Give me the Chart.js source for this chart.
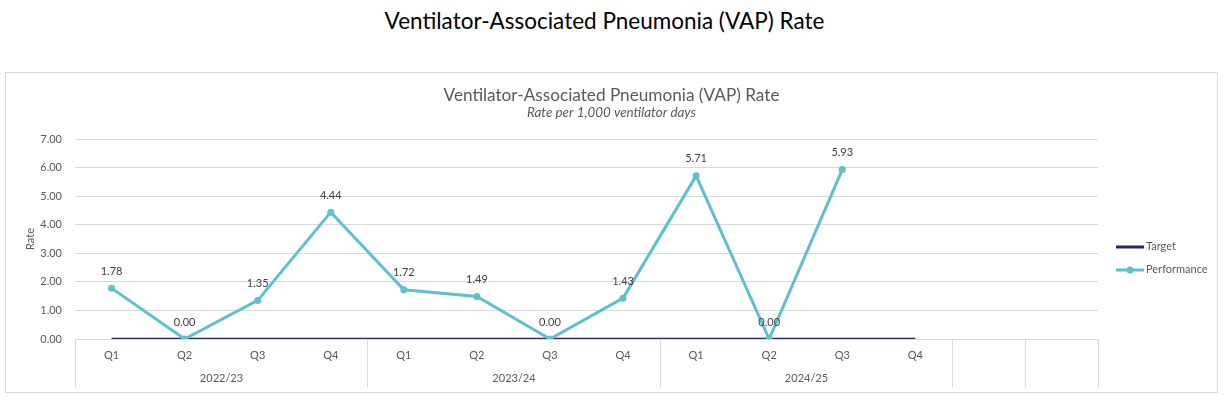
<!DOCTYPE html>
<html>
<head>
<meta charset="utf-8">
<script src="https://cdn.jsdelivr.net/npm/chart.js@4"></script>
<style>
  body { margin: 0; background: #fff; font-family: Lato, "Open Sans", sans-serif; }
  #pageTitle { position: absolute; left: 0; width: 1209px; top: 7px; text-align: center; font-size: 22.5px; color: #000; }
  #box { position: absolute; left: 5px; top: 72px; width: 1211px; height: 319px; border: 1px solid #d9d9d9; }
</style>
</head>
<body>
<div id="pageTitle">Ventilator-Associated Pneumonia (VAP) Rate</div>
<div id="box"><canvas id="vap"></canvas></div>
<script>
// categorieen (kwartalen) + jaargroepen
const quarters = ["Q1", "Q2", "Q3", "Q4", "Q1", "Q2", "Q3", "Q4", "Q1", "Q2", "Q3", "Q4", "", ""];
const years = ["2022/23", "2023/24", "2024/25", "", ""];
const yearSizes = [4, 4, 4, 1, 1];

const target = [0, 0, 0, 0, 0, 0, 0, 0, 0, 0, 0, 0, null, null];
const performance = [1.78, 0.00, 1.35, 4.44, 1.72, 1.49, 0.00, 1.43, 5.71, 0.00, 5.93, null, null, null];

const yTicks = [0, 1, 2, 3, 4, 5, 6, 7];

const teal = '#5ebfcd';
const navy = '#2e2270';
const grey = '#595959';
const font = 'Lato, "Open Sans", sans-serif';

// titels, labels boven de punten, jaartallen onder de as en de legenda
const extras = {
    id: 'extras',
    afterDatasetsDraw(chart) {
        const ctx = chart.ctx;
        const meta = chart.getDatasetMeta(0);
        ctx.save();
        ctx.font = '11px ' + font;
        ctx.fillStyle = '#404040';
        ctx.textAlign = 'center';
        ctx.textBaseline = 'middle';
        meta.data.forEach((pt, i) => {
            if (performance[i] === null) return;
            ctx.fillText(performance[i].toFixed(2), pt.x, pt.y - 17);
        });
        ctx.restore();
    },
    afterDraw(chart) {
        const ctx = chart.ctx;
        const x = chart.scales.x;
        const area = chart.chartArea;
        ctx.save();

        // titel + ondertitel, gecentreerd op het hele vak
        ctx.textAlign = 'center';
        ctx.textBaseline = 'middle';
        ctx.fillStyle = grey;
        ctx.font = '17.2px ' + font;
        ctx.fillText('Ventilator-Associated Pneumonia (VAP) Rate', chart.width / 2, 22);
        ctx.font = 'italic 13.4px ' + font;
        ctx.fillText('Rate per 1,000 ventilator days', chart.width / 2, 40);

        ctx.strokeStyle = '#d9d9d9';
        ctx.lineWidth = 1;
        ctx.font = '11px ' + font;
        let start = 0;
        const edge = (i) => Math.round(x.getPixelForValue(i - 0.5)) + 0.5;
        ctx.beginPath();
        ctx.moveTo(edge(0), area.bottom);
        ctx.lineTo(edge(0), area.bottom + 48);
        ctx.stroke();
        years.forEach((y, g) => {
            const end = start + yearSizes[g];
            const l = edge(start), r = edge(end);
            ctx.beginPath();
            ctx.moveTo(r, area.bottom);
            ctx.lineTo(r, area.bottom + 48);
            ctx.stroke();
            if (y) ctx.fillText(y, (l + r) / 2, area.bottom + 39);
            start = end;
        });

        // legenda
        const lx = area.right + 18;
        const items = [
            { label: 'Target', color: navy, y: 174, dot: false },
            { label: 'Performance', color: teal, y: 197, dot: true },
        ];
        ctx.textAlign = 'left';
        items.forEach(it => {
            ctx.strokeStyle = it.color;
            ctx.lineWidth = 3;
            ctx.beginPath();
            ctx.moveTo(lx, it.y);
            ctx.lineTo(lx + 28, it.y);
            ctx.stroke();
            if (it.dot) {
                ctx.fillStyle = it.color;
                ctx.beginPath();
                ctx.arc(lx + 14, it.y, 3.5, 0, Math.PI * 2);
                ctx.fill();
            }
            ctx.fillStyle = grey;
            ctx.fillText(it.label, lx + 30, it.y - 1);
        });
        ctx.restore();
    }
};

const data = {
    labels: quarters,
    datasets: [
        {
            label: 'Performance',
            data: performance,
            borderColor: teal,
            backgroundColor: teal,
            borderWidth: 3,
            pointRadius: 3.5,
            pointBorderWidth: 0,
            tension: 0,
            order: 0,
        },
        {
            label: 'Target',
            data: target,
            borderColor: navy,
            backgroundColor: navy,
            borderWidth: 2.5,
            pointRadius: 0,
            tension: 0,
            order: 1,
        }
    ]
};

const config = {
    type: 'line',
    data: data,
    plugins: [extras],
    options: {
        responsive: true,
        maintainAspectRatio: false,
        animation: false,
        layout: { padding: { left: 0, right: 119, top: 66, bottom: 0 } },
        plugins: {
            legend: { display: false },
            tooltip: { enabled: false },
        },
        scales: {
            x: {
                offset: true,
                grid: { display: false, offset: true },
                border: { display: true, color: '#d9d9d9' },
                ticks: { color: grey, font: { family: font, size: 11 }, padding: 2, maxRotation: 0, autoSkip: false },
                afterFit(scale) { scale.height = 53; }
            },
            y: {
                min: 0,
                max: 7,
                afterBuildTicks(scale) { scale.ticks = yTicks.map(v => ({ value: v })); },
                grid: { color: '#d9d9d9', drawTicks: false },
                border: { display: false },
                ticks: { color: grey, font: { family: font, size: 11 }, padding: 13, callback: v => v.toFixed(2) },
                title: { display: true, text: 'Rate', color: grey, font: { family: font, size: 11 }, padding: { top: 18, bottom: 0 } },
                afterFit(scale) { scale.width = 69; }
            }
        }
    }
};

const chart = new Chart(document.getElementById('vap'), config);
</script>
</body>
</html>
